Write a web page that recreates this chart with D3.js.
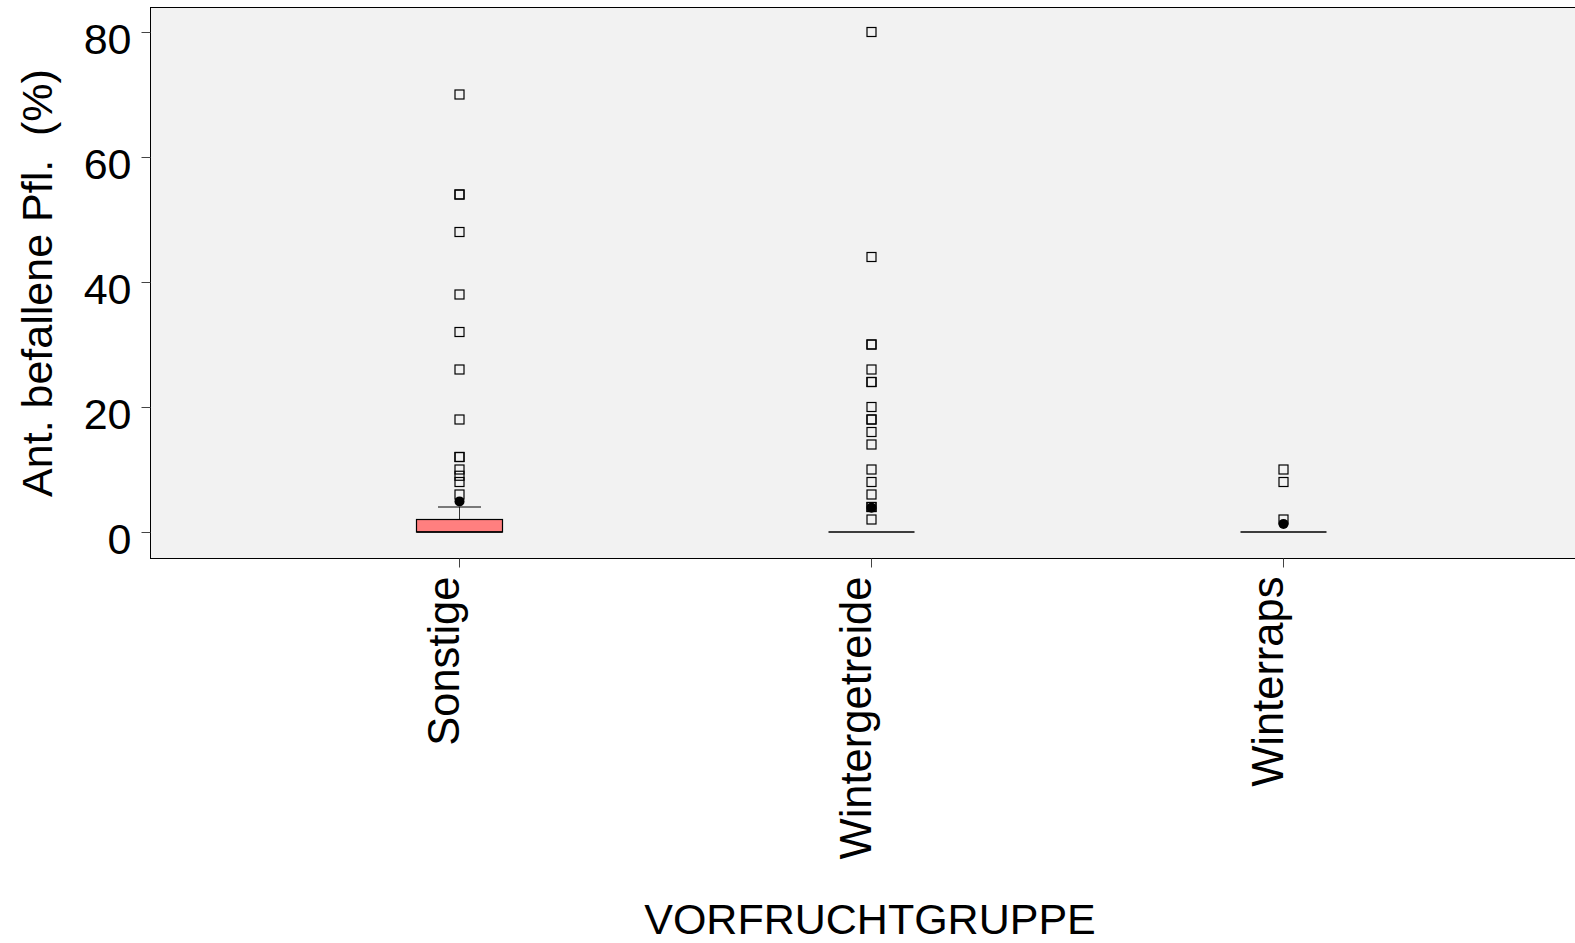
<!DOCTYPE html>
<html><head><meta charset="utf-8">
<script src="https://cdn.jsdelivr.net/npm/d3@7"></script>
<style>body{margin:0;background:#fff}svg{display:block}text{font-family:"Liberation Sans",Arial,sans-serif;fill:#000}</style>
</head><body><svg id="c" width="1575" height="943"></svg>
<script>
const categories = ["Sonstige", "Wintergetreide", "Winterraps"];
const q1 =        [0, 0, 0];
const median =    [0, 0, 0];
const q3 =        [2, 0, 0];
const whiskerLo = [0, 0, 0];
const whiskerHi = [4, 0, 0];
const means =     [4.9, 3.9, 1.3];
const outliers = [
  [6, 8, 9, 10, 12, 12, 18, 26, 32, 38, 48, 54, 54, 70],
  [2, 4, 4, 6, 8, 10, 14, 16, 18, 18, 20, 24, 24, 26, 30, 30, 44, 80],
  [2, 8, 10]
];
const yTicks = [0, 20, 40, 60, 80];
const yTitle = "Ant. befallene Pfl.  (%)";
const xTitle = "VORFRUCHTGRUPPE";

const svg = d3.select("#c");
const L = 150.5, T = 7.5, B = 558.5;
const FS = 43;
const x = d3.scalePoint().domain(categories).range([150, 1592]).padding(0.75);
const y = d3.scaleLinear().domain([0, 80]).range([532, 32]);

svg.append("rect").attr("x", L).attr("y", T).attr("width", 1700).attr("height", B - T)
  .attr("fill", "#f2f2f2").attr("stroke", "#000").attr("stroke-width", 1);

// y axis
const yAxis = svg.append("g").attr("transform", `translate(${L},0)`)
  .call(d3.axisLeft(y).tickValues(yTicks).tickSize(9).tickPadding(10).tickFormat(d3.format("d")));
yAxis.select(".domain").remove();
yAxis.selectAll(".tick line").attr("stroke", "#444");
yAxis.selectAll(".tick text").attr("font-size", FS).attr("dy", "0.5em").style("font-family", "Liberation Sans, Arial, sans-serif");

// x axis
const xAxis = svg.append("g").attr("transform", `translate(0,${B})`)
  .call(d3.axisBottom(x).tickSize(9).tickFormat(""));
xAxis.select(".domain").remove();
xAxis.selectAll(".tick line").attr("stroke", "#444");
svg.append("g").selectAll("text").data(categories).join("text")
  .attr("transform", d => `translate(${x(d)},${B + 18}) rotate(-90)`)
  .attr("text-anchor", "end").attr("font-size", FS + 0.5).text(d => d);

const boxHalf = 43, capHalf = 21.5, sq = 9;
const g = svg.append("g");
categories.forEach((c, i) => {
  const cx = Math.round(x(c)) + 0.5;
  if (whiskerHi[i] > q3[i]) {
    g.append("line").attr("x1", cx).attr("x2", cx).attr("y1", y(q3[i])).attr("y2", y(whiskerHi[i]))
      .attr("stroke", "#333").attr("stroke-width", 1);
    g.append("line").attr("x1", cx - capHalf).attr("x2", cx + capHalf).attr("y1", y(whiskerHi[i])).attr("y2", y(whiskerHi[i]))
      .attr("stroke", "#000").attr("stroke-width", 1.2);
  }
  if (q3[i] > q1[i]) {
    g.append("rect").attr("x", cx - boxHalf).attr("y", y(q3[i])).attr("width", boxHalf * 2)
      .attr("height", y(q1[i]) - y(q3[i])).attr("fill", "#ff7f7f").attr("stroke", "#000").attr("stroke-width", 1.2);
  }
  g.append("line").attr("x1", cx - boxHalf).attr("x2", cx + boxHalf).attr("y1", y(median[i])).attr("y2", y(median[i]))
    .attr("stroke", "#000").attr("stroke-width", 1.5);
  outliers[i].forEach(v => {
    g.append("rect").attr("x", cx - sq / 2).attr("y", y(v) - sq / 2).attr("width", sq).attr("height", sq)
      .attr("fill", "none").attr("stroke", "#000").attr("stroke-width", 1.2);
  });
  g.append("circle").attr("cx", cx).attr("cy", y(means[i])).attr("r", 5).attr("fill", "#000");
});

svg.append("text").attr("transform", `translate(52,${(T + B) / 2}) rotate(-90)`)
  .attr("text-anchor", "middle").attr("font-size", FS).style("white-space", "pre").text(yTitle);
svg.append("text").attr("x", 870).attr("y", 934).attr("text-anchor", "middle").attr("font-size", FS).text(xTitle);
</script></body></html>
